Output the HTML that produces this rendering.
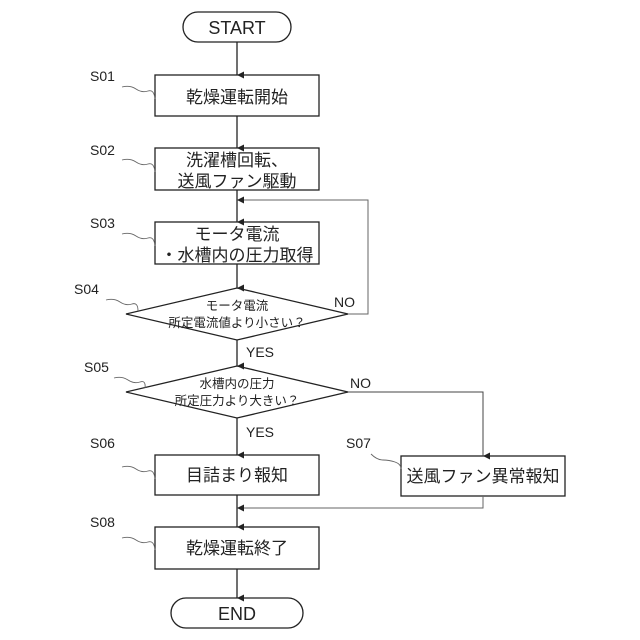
<!DOCTYPE html>
<html><head><meta charset="utf-8"><style>
html,body{margin:0;padding:0;background:#fff;}
svg{display:block;}
text{font-family:"Liberation Sans","Noto Sans CJK JP",sans-serif;fill:#222;}
</style></head><body>
<svg width="640" height="640" viewBox="0 0 640 640" xmlns="http://www.w3.org/2000/svg">
<defs><marker id="a" markerWidth="8" markerHeight="8" refX="4" refY="7" orient="auto" markerUnits="userSpaceOnUse">
<path d="M0.5,0 L7.5,0 L4,7 Z" fill="#222"/></marker>
<marker id="al" markerWidth="8" markerHeight="8" refX="7" refY="4" orient="auto-start-reverse" markerUnits="userSpaceOnUse">
<path d="M0,0.5 L7,4 L0,7.5 Z" fill="#222"/></marker></defs>
<g stroke="#222" stroke-width="1.3" fill="none">
<rect x="183" y="12" width="108" height="30" rx="15" fill="#fff"/>
<rect x="155" y="75" width="164" height="41"/>
<rect x="155" y="148" width="164" height="42"/>
<rect x="155" y="222" width="164" height="42"/>
<polygon points="237,288 348,314 237,340 126,314"/>
<polygon points="237,366 348,392 237,418 126,392"/>
<rect x="155" y="455" width="164" height="40"/>
<rect x="401" y="456" width="164" height="40"/>
<rect x="155" y="527" width="164" height="42"/>
<rect x="171" y="598" width="132" height="30" rx="15"/>
<line x1="237" y1="42" x2="237" y2="75" marker-end="url(#a)"/>
<line x1="237" y1="116" x2="237" y2="148" marker-end="url(#a)"/>
<line x1="237" y1="190" x2="237" y2="222" marker-end="url(#a)"/>
<line x1="237" y1="264" x2="237" y2="288" marker-end="url(#a)"/>
<line x1="237" y1="340" x2="237" y2="366" marker-end="url(#a)"/>
<line x1="237" y1="418" x2="237" y2="455" marker-end="url(#a)"/>
<line x1="237" y1="495" x2="237" y2="527" marker-end="url(#a)"/>
<line x1="237" y1="569" x2="237" y2="598" marker-end="url(#a)"/>
<polyline points="348,314 368,314 368,200 240,200" stroke="#666" stroke-width="1"/>
<path d="M244,196.5 L237,200 L244,203.5 Z" fill="#222" stroke="none"/>
<polyline points="348,392 483,392 483,456" marker-end="url(#a)" stroke="#444" stroke-width="1"/>
<polyline points="483,496 483,508 240,508" stroke="#666" stroke-width="1"/>
<path d="M244,504.5 L237,508 L244,511.5 Z" fill="#222" stroke="none"/>
<g stroke="#666" stroke-width="0.9">
<path d="M122,87 q8,-2 14,2 t12,2 t7,8"/>
<path d="M122,160 q8,-2 14,2 t12,2 t7,8"/>
<path d="M122,234 q8,-2 14,2 t12,2 t7,8"/>
<path d="M106,300 q8,-2 14,2 t12,2 t6,7"/>
<path d="M114,378 q8,-2 14,2 t12,2 t5,6"/>
<path d="M122,467 q8,-2 14,2 t12,2 t7,8"/>
<path d="M371,454 q6,6 12,6 t12,2 t6,7"/>
<path d="M122,538 q8,-2 14,2 t12,2 t7,8"/>
</g>
</g>
<g font-size="18" text-anchor="middle">
<text x="237" y="34">START</text>
<text x="237" y="103" font-size="17">乾燥運転開始</text>
<text x="237" y="166" font-size="17">洗濯槽回転、</text>
<text x="237" y="187" font-size="17">送風ファン駆動</text>
<text x="237" y="240" font-size="17">モータ電流</text>
<text x="237" y="261" font-size="17">・水槽内の圧力取得</text>
<text x="237" y="310" font-size="12.5">モータ電流</text>
<text x="237" y="327" font-size="12.5">所定電流値より小さい？</text>
<text x="237" y="388" font-size="12.5">水槽内の圧力</text>
<text x="237" y="405" font-size="12.5">所定圧力より大きい？</text>
<text x="237" y="481" font-size="17">目詰まり報知</text>
<text x="483" y="482" font-size="17">送風ファン異常報知</text>
<text x="237" y="554" font-size="17">乾燥運転終了</text>
<text x="237" y="620">END</text>
</g>
<g font-size="14">
<text x="90" y="81">S01</text>
<text x="90" y="155">S02</text>
<text x="90" y="228">S03</text>
<text x="74" y="294">S04</text>
<text x="84" y="372">S05</text>
<text x="90" y="448">S06</text>
<text x="346" y="448">S07</text>
<text x="90" y="527">S08</text>
<text x="334" y="307">NO</text>
<text x="350" y="388">NO</text>
<text x="246" y="357">YES</text>
<text x="246" y="437">YES</text>
</g>
</svg>
</body></html>
